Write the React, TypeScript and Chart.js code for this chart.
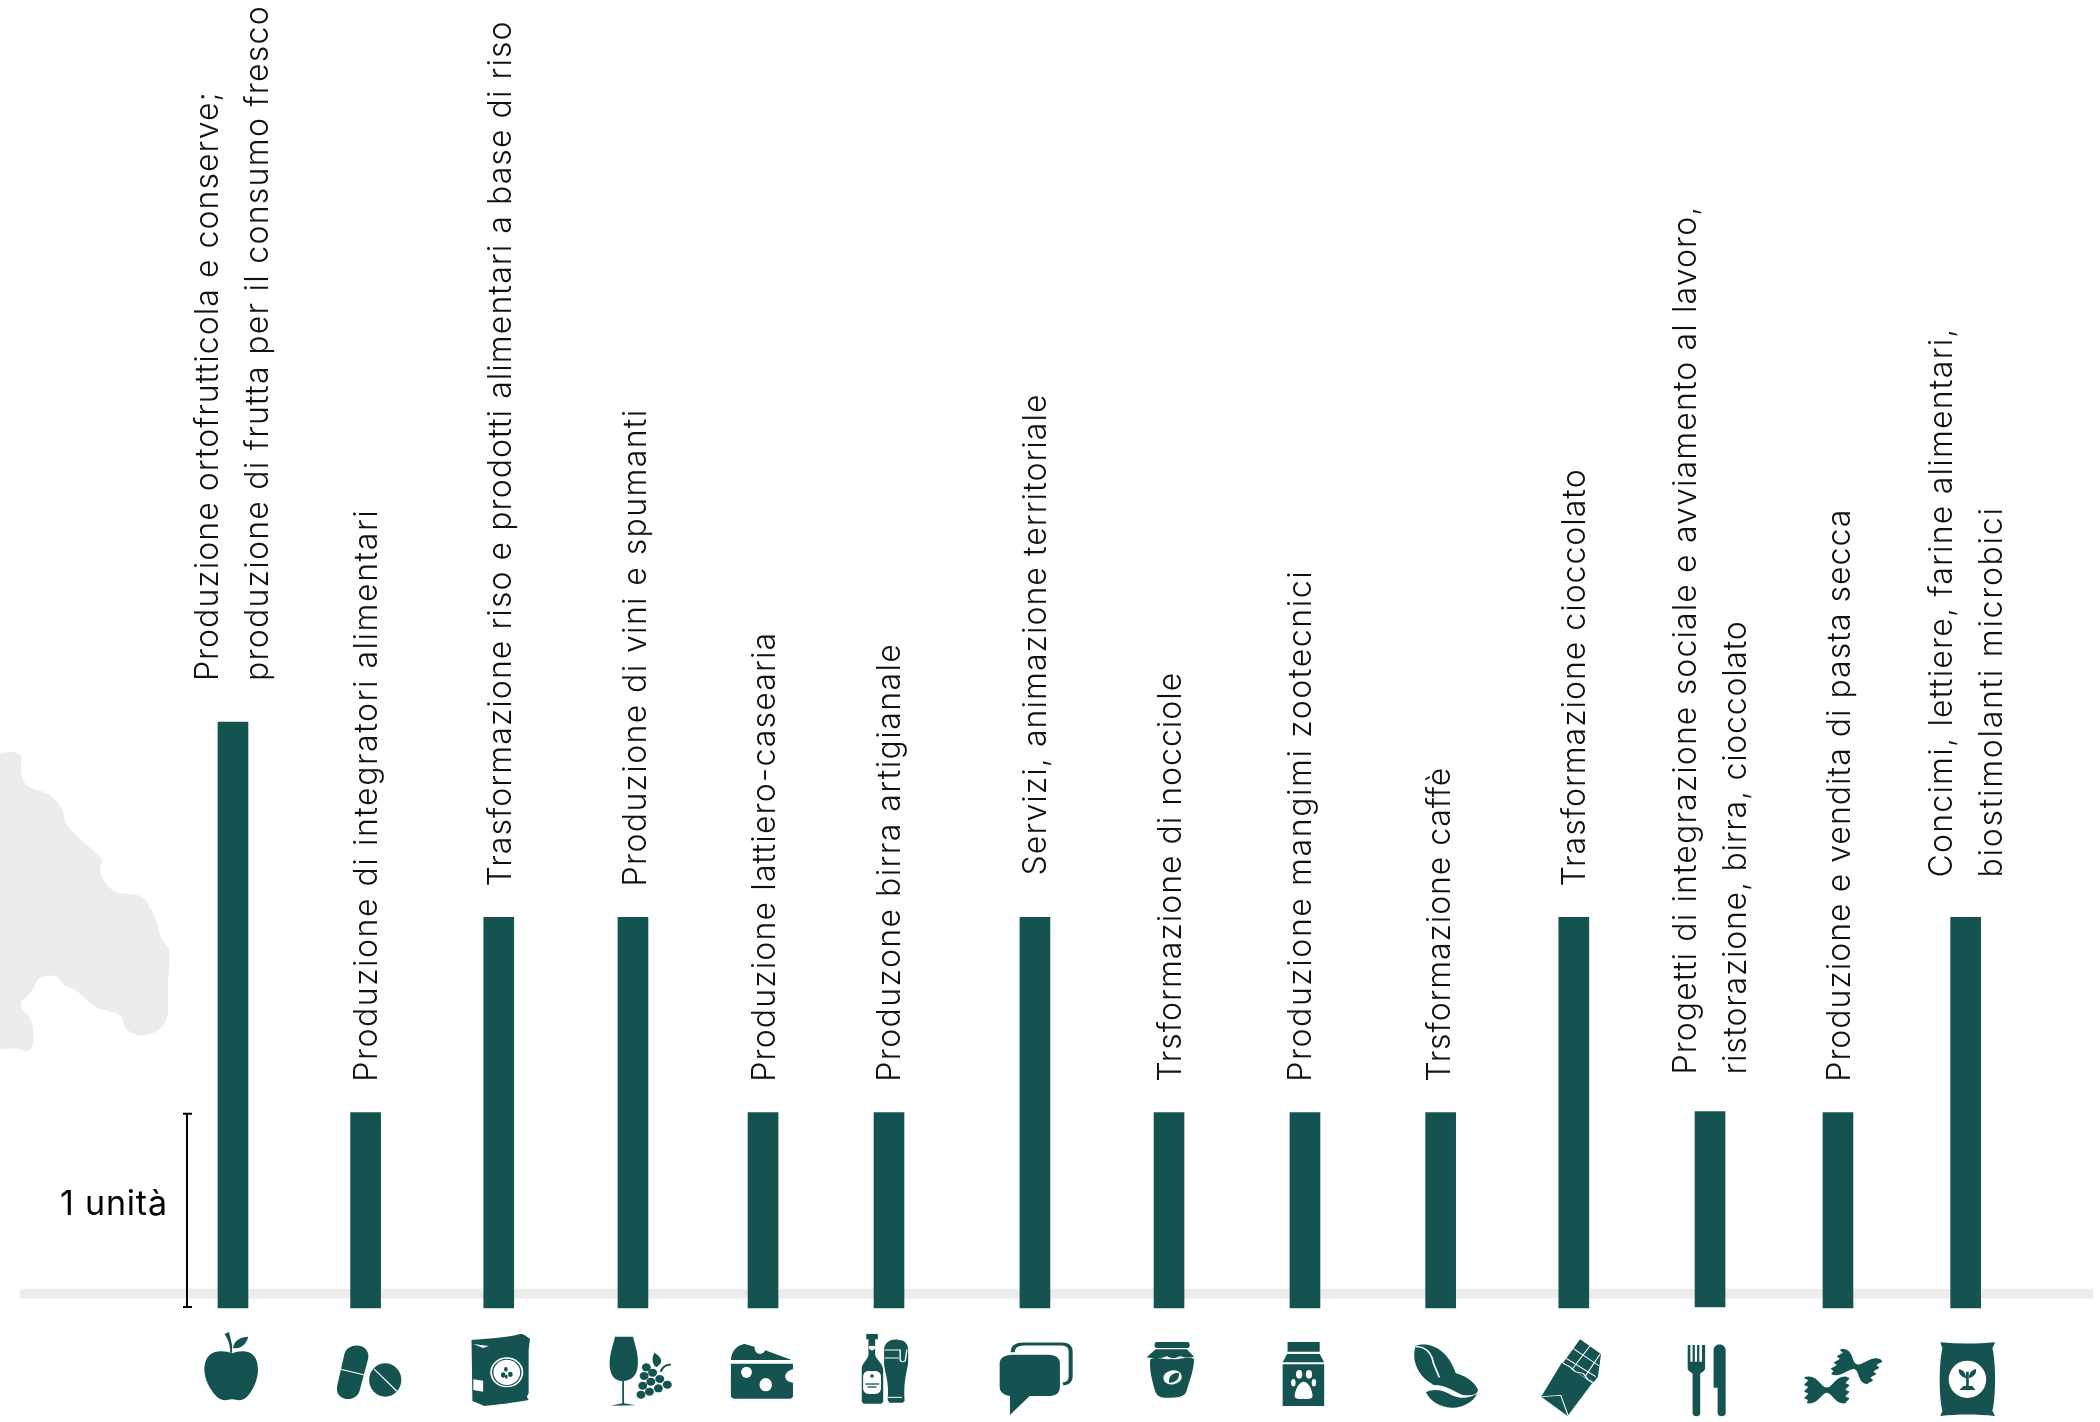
import React, { useEffect, useRef } from "react";
import { Chart, registerables } from "chart.js";

Chart.register(...registerables);

const TEAL = "#14534f";
const GREY = "#ececec";
const FONT = '300 32px Inter, "Open Sans", sans-serif';

const activities: string[][] = [
  ["Produzione ortofrutticola e conserve;", "produzione di frutta per il consumo fresco"],
  ["Produzione di integratori alimentari"],
  ["Trasformazione riso e prodotti alimentari a base di riso"],
  ["Produzione di vini e spumanti"],
  ["Produzione lattiero-casearia"],
  ["Produzone birra artigianale"],
  ["Servizi, animazione territoriale"],
  ["Trsformazione di nocciole"],
  ["Produzione mangimi zootecnici"],
  ["Trsformazione caffè"],
  ["Trasformazione cioccolato"],
  ["Progetti di integrazione sociale e avviamento al lavoro,", "ristorazione, birra, cioccolato"],
  ["Produzione e vendita di pasta secca"],
  ["Concimi, lettiere, farine alimentari,", "biostimolanti microbici"],
];
const units = [3, 1, 2, 2, 1, 1, 2, 1, 1, 1, 2, 1, 1, 2];
const barStart = [0, 0, 0, 0, 0, 0, 0, 0, 0, 0, 0, 0.006, 0, 0];
const slots = [0, 0.995, 1.994, 3.001, 3.977, 4.922, 6.017, 7.023, 8.043, 9.061, 10.06, 11.082, 12.042, 13];
const labelLift = [41, 31, 31, 31, 31, 31, 42, 31, 31, 31, 31, 37, 31, 40];
const labelNudge = [0, -1, 0, 1, 0, -1, -1, 0, -6, -3, -1, 1, 0, 1];
const labelLengths = [[590, 676], [573], [866], [478], [450], [439], [482], [410], [512], [315], [418], [869, 454], [573], [550, 371]];
const unitLabel = "1 unità";

const mapOutline: [number, number][] = [
  [0, 753], [23, 749], [20, 771], [26, 788], [48, 792], [64, 809], [63, 820], [76, 836], [101, 857],
  [103, 862], [98, 870], [111, 893], [138, 894], [148, 901], [158, 925], [161, 941], [171, 948],
  [167, 987], [169, 1024], [145, 1038], [124, 1030], [123, 1017], [114, 1012], [94, 1008], [76, 989],
  [63, 986], [58, 975], [38, 976], [33, 991], [17, 1005], [33, 1019], [34, 1046], [27, 1053], [20, 1048], [0, 1049],
];

type Ctx = CanvasRenderingContext2D;
const fillP = (c: Ctx, d: string, col = TEAL) => { c.fillStyle = col; c.fill(new Path2D(d)); };
const strokeP = (c: Ctx, d: string, w = 3, col = "#fff") => {
  c.strokeStyle = col; c.lineWidth = w; c.lineCap = "butt"; c.stroke(new Path2D(d));
};
const ell = (c: Ctx, x: number, y: number, rx: number, ry: number, col = "#fff", rot = 0) => {
  c.fillStyle = col; c.beginPath(); c.ellipse(x, y, rx, ry, rot, 0, Math.PI * 2); c.fill();
};

const bow = (c: Ctx, x: number, y: number, rot: number) => {
  c.save();
  c.translate(x, y);
  c.rotate(rot);
  c.fillStyle = TEAL;
  c.beginPath();
  c.moveTo(-44, -40);
  c.bezierCurveTo(-20, -45, -12, -5, 0, -8);
  c.bezierCurveTo(12, -5, 20, -45, 44, -40);
  for (let i = 0; i < 8; i++) {
    c.lineTo(i % 2 ? 44 : 51, -40 + (i + 0.5) * 10);
    c.lineTo(i % 2 ? 42 : 48, -40 + (i + 1) * 10);
  }
  c.bezierCurveTo(20, 45, 12, 8, 0, 8);
  c.bezierCurveTo(-12, 8, -20, 45, -44, 40);
  for (let i = 7; i >= 0; i--) {
    c.lineTo(i % 2 ? -44 : -51, -40 + (i + 0.5) * 10);
    c.lineTo(i % 2 ? -42 : -48, -40 + i * 10);
  }
  c.closePath();
  c.fill();
  c.restore();
};

const icons: { zc: number; draw: (c: Ctx) => void }[] = [
  { zc: 522, draw: (c) => {
    fillP(c, "M520 250 C500 240 458 235 458 300 C458 335 480 380 495 388 C505 394 510 388 520 388 C530 388 535 394 545 388 C560 380 578 335 578 300 C578 235 540 240 520 250Z");
    fillP(c, "M503 192 L513 186 L520 225 L520 248 L516 248 C516 225 510 205 503 192Z");
    fillP(c, "M522 234 C525 208 540 202 556 200 C552 222 540 238 522 234Z");
  } },
  { zc: 819, draw: (c) => {
    fillP(c, "M771 255 C775 215 830 215 825 265 L806 360 C800 400 750 395 755 350Z");
    strokeP(c, "M763 298 L817 315");
    ell(c, 863, 330, 36, 50, TEAL);
    strokeP(c, "M838 297 L890 365");
  } },
  { zc: 1117, draw: (c) => {
    fillP(c, "M1056 210 C1090 205 1130 205 1165 192 C1175 192 1180 200 1187 207 L1184 240 L1184 370 L1180 380 L1184 390 C1150 398 1110 405 1085 408 L1058 393Z");
    fillP(c, "M1060 222 L1095 228 L1082 234Z", "#fff");
    fillP(c, "M1060 328 L1082 332 L1082 365 L1060 360Z", "#fff");
    ell(c, 1135, 307, 37, 45);
    ell(c, 1135, 307, 33, 41, TEAL);
    ell(c, 1135, 307, 30, 38);
    ell(c, 1133, 298, 4, 7, TEAL);
    ell(c, 1127, 315, 5, 8, TEAL);
    ell(c, 1143, 313, 5, 8, TEAL);
    ell(c, 1134, 320, 3, 6, TEAL);
  } },
  { zc: 1418, draw: (c) => {
    fillP(c, "M1378 200 L1418 200 C1425 235 1432 260 1428 295 C1425 320 1412 333 1396 333 C1380 333 1368 320 1366 290 C1364 260 1372 230 1378 200Z");
    fillP(c, "M1394 333 L1398 333 L1398 400 L1424 406 L1368 407 L1394 400Z");
    const grapes = [[1448, 292], [1443, 318], [1462, 308], [1478, 327], [1440, 347], [1458, 335], [1475, 355], [1495, 344], [1455, 365], [1436, 374]];
    grapes.forEach(([x, y]) => ell(c, x, y, 10, 12, TEAL));
    fillP(c, "M1466 248 C1480 260 1490 275 1470 292 C1460 280 1460 265 1466 248Z");
    strokeP(c, "M1480 305 C1485 290 1490 285 1503 283", 5, TEAL);
  } },
  { zc: 141, draw: (c) => {
    fillP(c, "M69 270 C70 240 85 225 100 222 L122 230 C122 255 140 258 146 241 L205 270Z");
    fillP(c, "M69 281 L208 281 L208 298 C185 305 185 335 208 338 L208 380 L203 386 L75 386 L69 380Z");
    ell(c, 104, 307, 12, 17);
    ell(c, 147, 344, 14, 20);
  } },
  { zc: 423, draw: (c) => {
    fillP(c, "M372 192 L398 192 L398 208 L392 208 L392 255 C395 270 410 280 410 300 L410 395 L406 401 L366 401 L362 395 L362 295 C362 280 375 270 377 255 L377 208 L372 208Z");
    fillP(c, "M378 228 L392 228 L392 236 L385 242 L378 236Z", "#fff");
    fillP(c, "M378 303 L392 303 C400 303 405 310 405 320 L405 355 C405 365 400 372 392 372 L378 372 C370 372 365 365 365 355 L365 320 C365 310 370 303 378 303Z", "#fff");
    ell(c, 385, 318, 4, 5, TEAL);
    strokeP(c, "M370 342 L401 342", 4, TEAL);
    strokeP(c, "M375 351 L395 351", 4, TEAL);
    fillP(c, "M412 235 C415 215 430 205 445 210 C460 210 466 225 466 240 L466 270 C466 300 455 320 458 392 L454 398 L424 398 L420 390 C425 330 410 300 412 270Z");
    strokeP(c, "M413 240 L448 240 L448 268 C448 278 460 278 460 268 L463 238");
    strokeP(c, "M413 264 L445 264");
    strokeP(c, "M420 382 L452 382");
  } },
  { zc: 750, draw: (c) => {
    strokeP(c, "M700 247 C700 228 710 222 725 222 L810 222 C825 222 830 232 830 245 L830 320 C830 335 822 340 813 342", 9, TEAL);
    fillP(c, "M700 254 L780 254 C798 254 806 265 806 280 L806 350 C806 370 795 378 780 378 L738 378 L694 435 L694 378 C680 375 671 365 671 350 L671 280 C671 262 685 254 700 254Z");
  } },
  { zc: 1050, draw: (c) => {
    fillP(c, "M1022 216 L1092 216 C1098 216 1098 234 1092 234 L1022 234 C1016 234 1016 216 1022 216Z");
    fillP(c, "M1020 238 L1090 238 L1106 260 C1095 264 1085 264 1075 258 C1065 266 1055 266 1045 258 C1035 266 1015 266 1000 262Z");
    fillP(c, "M1008 268 C1025 258 1040 272 1055 266 C1070 272 1085 258 1106 266 C1106 300 1095 335 1090 360 C1087 378 1075 383 1055 383 L1040 383 C1030 383 1022 378 1018 360 C1012 330 1005 295 1008 268Z");
    ell(c, 1058, 322, 20, 22, "#fff", 0.6);
    fillP(c, "M1050 338 C1048 318 1058 308 1072 308 C1074 325 1066 338 1050 338Z");
  } },
  { zc: 1355, draw: (c) => {
    fillP(c, "M1316 216 L1388 216 L1388 245 L1316 245Z");
    fillP(c, "M1315 252 L1388 252 L1398 277 L1305 277Z");
    fillP(c, "M1305 283 L1398 283 L1398 408 L1305 408Z");
    fillP(c, "M1352 335 C1365 335 1372 365 1372 378 C1372 388 1362 388 1352 386 C1342 388 1332 388 1332 378 C1332 365 1340 335 1352 335Z", "#fff");
    ell(c, 1342, 313, 7, 13);
    ell(c, 1364, 313, 7, 13);
    ell(c, 1329, 338, 5, 11);
    ell(c, 1375, 338, 5, 11);
  } },
  { zc: 91, draw: (c) => {
    fillP(c, "M35 228 C60 215 105 230 125 310 C140 315 165 330 175 360 C172 375 160 378 140 375 C120 365 105 345 75 345 L68 338 C40 315 25 270 35 228Z");
    strokeP(c, "M35 230 C55 230 70 245 75 280 L88 322", 4);
    fillP(c, "M58 367 C75 355 95 360 115 375 C135 388 155 385 172 372 C165 395 140 415 115 413 C90 412 68 395 58 367Z");
  } },
  { zc: 389, draw: (c) => {
    fillP(c, "M403 208 L450 252 L443 320 L432 340 L365 278Z");
    fillP(c, "M362 278 L378 290 L430 340 L375 438 L316 380Z");
    strokeP(c, "M388 236 L446 288", 2.5);
    strokeP(c, "M372 265 L438 320", 2.5);
    strokeP(c, "M425 228 L385 298", 2.5);
    strokeP(c, "M448 252 L415 318", 2.5);
    strokeP(c, "M365 280 L380 290 L392 305 L410 310 L420 328 L434 338", 3);
    strokeP(c, "M318 380 L360 376 L376 436", 2.5);
  } },
  { zc: 694, draw: (c) => {
    fillP(c, "M644 225 L650 225 L650 275 L655 275 L655 225 L660 225 L660 275 L665 275 L665 225 L670 225 L670 275 L676 275 L676 225 L683 225 L683 295 C683 305 672 308 672 312 L672 430 C672 442 655 442 655 430 L655 312 C655 308 644 305 644 295Z");
    fillP(c, "M702 240 C703 218 728 218 729 240 L729 430 C729 442 711 442 711 430 L711 353 L702 353Z");
  } },
  { zc: 981, draw: (c) => {
    bow(c, 1021, 290, 0.35);
    bow(c, 956, 360, 0);
  } },
  { zc: 1267, draw: (c) => {
    fillP(c, "M1210 217 C1250 222 1290 222 1333 217 L1327 235 C1335 280 1335 380 1327 423 L1333 438 C1290 432 1250 432 1210 438 L1215 423 C1207 380 1207 280 1215 235Z");
    ell(c, 1271, 328, 42, 56);
    fillP(c, "M1268 305 L1274 305 L1274 350 L1268 350Z");
    fillP(c, "M1268 325 C1255 320 1250 308 1252 297 C1262 300 1268 310 1268 325Z");
    fillP(c, "M1274 325 C1287 320 1292 308 1290 297 C1280 300 1274 310 1274 325Z");
    fillP(c, "M1253 360 L1262 348 L1282 348 L1289 360Z");
  } },
];

const artwork = {
  id: "artwork",
  beforeDatasetsDraw(chart: any) {
    const c: Ctx = chart.ctx;
    const y = chart.scales.y;
    c.save();
    c.fillStyle = GREY;
    c.beginPath();
    const m = mapOutline;
    c.moveTo(m[0][0], m[0][1]);
    for (let i = 1; i < m.length - 1; i++) {
      const mx = (m[i][0] + m[i + 1][0]) / 2;
      const my = (m[i][1] + m[i + 1][1]) / 2;
      c.quadraticCurveTo(m[i][0], m[i][1], mx, my);
    }
    c.lineTo(m[m.length - 1][0], m[m.length - 1][1]);
    c.closePath();
    c.fill();
    const bandTop = y.getPixelForValue(0.099);
    const bandBottom = y.getPixelForValue(0.048);
    c.fillRect(20, bandTop, 2073, bandBottom - bandTop);
    c.restore();
  },
  afterDatasetsDraw(chart: any) {
    const c: Ctx = chart.ctx;
    const { x, y } = chart.scales;
    const y0 = y.getPixelForValue(0);
    const y1 = y.getPixelForValue(1);
    c.save();
    // unit bracket
    c.strokeStyle = "#000";
    c.lineWidth = 2;
    c.beginPath();
    c.moveTo(187, y1);
    c.lineTo(187, y0);
    c.moveTo(183, y1 + 1);
    c.lineTo(192, y1 + 1);
    c.moveTo(183, y0 - 1);
    c.lineTo(192, y0 - 1);
    c.stroke();
    c.fillStyle = "#000";
    c.font = '400 34px Inter, "Open Sans", sans-serif';
    (c as any).letterSpacing = "0.8px";
    c.textAlign = "left";
    c.textBaseline = "alphabetic";
    c.fillText(unitLabel, 60, y0 - 93);

    // rotated labels, each fitted to the run length it has in the reference
    c.font = FONT;
    c.fillStyle = "#111";
    activities.forEach((lines, i) => {
      const cx = x.getPixelForValue(slots[i]);
      const top = y.getPixelForValue(units[i] + barStart[i]);
      lines.forEach((line, k) => {
        c.save();
        const off = (lines.length === 1 ? 12 : k === 0 ? -15 : 35) + labelNudge[i];
        (c as any).letterSpacing = "0px";
        const natural = c.measureText(line).width;
        (c as any).letterSpacing = `${(labelLengths[i][k] - natural) / line.length}px`;
        c.translate(cx + off, top - labelLift[i]);
        c.rotate(-Math.PI / 2);
        c.fillText(line, 0, 0);
        c.restore();
      });
    });
    (c as any).letterSpacing = "0px";

    // icons
    const iconOrigin = y0 - 38;
    icons.forEach((ic, i) => {
      const cx = x.getPixelForValue(slots[i]);
      c.save();
      c.translate(cx - ic.zc / 2.24, iconOrigin);
      c.scale(1 / 2.24, 1 / 3);
      ic.draw(c);
      c.restore();
    });
    c.restore();
  },
};

export default function App() {
  const ref = useRef<HTMLCanvasElement>(null);
  useEffect(() => {
    document.body.style.margin = "0";
    const chart = new Chart(ref.current!, {
      type: "bar",
      data: {
        labels: activities.map((l) => l.join(" ")),
        datasets: [
          {
            data: units.map((u, i) => ({ x: slots[i], y: [barStart[i], u + barStart[i]] })) as any,
            backgroundColor: TEAL,
            barThickness: 30,
            borderWidth: 0,
          },
        ],
      },
      options: {
        responsive: false,
        animation: false,
        maintainAspectRatio: false,
        layout: { padding: 0 },
        plugins: { legend: { display: false }, tooltip: { enabled: false } },
        scales: {
          x: { type: "linear", display: false, offset: false, min: -1.748, max: 14.008 },
          y: { type: "linear", display: false, min: -0.5837, max: 6.6974 },
        },
      },
      plugins: [artwork],
    });
    return () => chart.destroy();
  }, []);
  return (
    <canvas
      ref={ref}
      width={2100}
      height={1422}
      style={{ position: "absolute", left: 0, top: 0, width: 2100, height: 1422, display: "block" }}
    />
  );
}
